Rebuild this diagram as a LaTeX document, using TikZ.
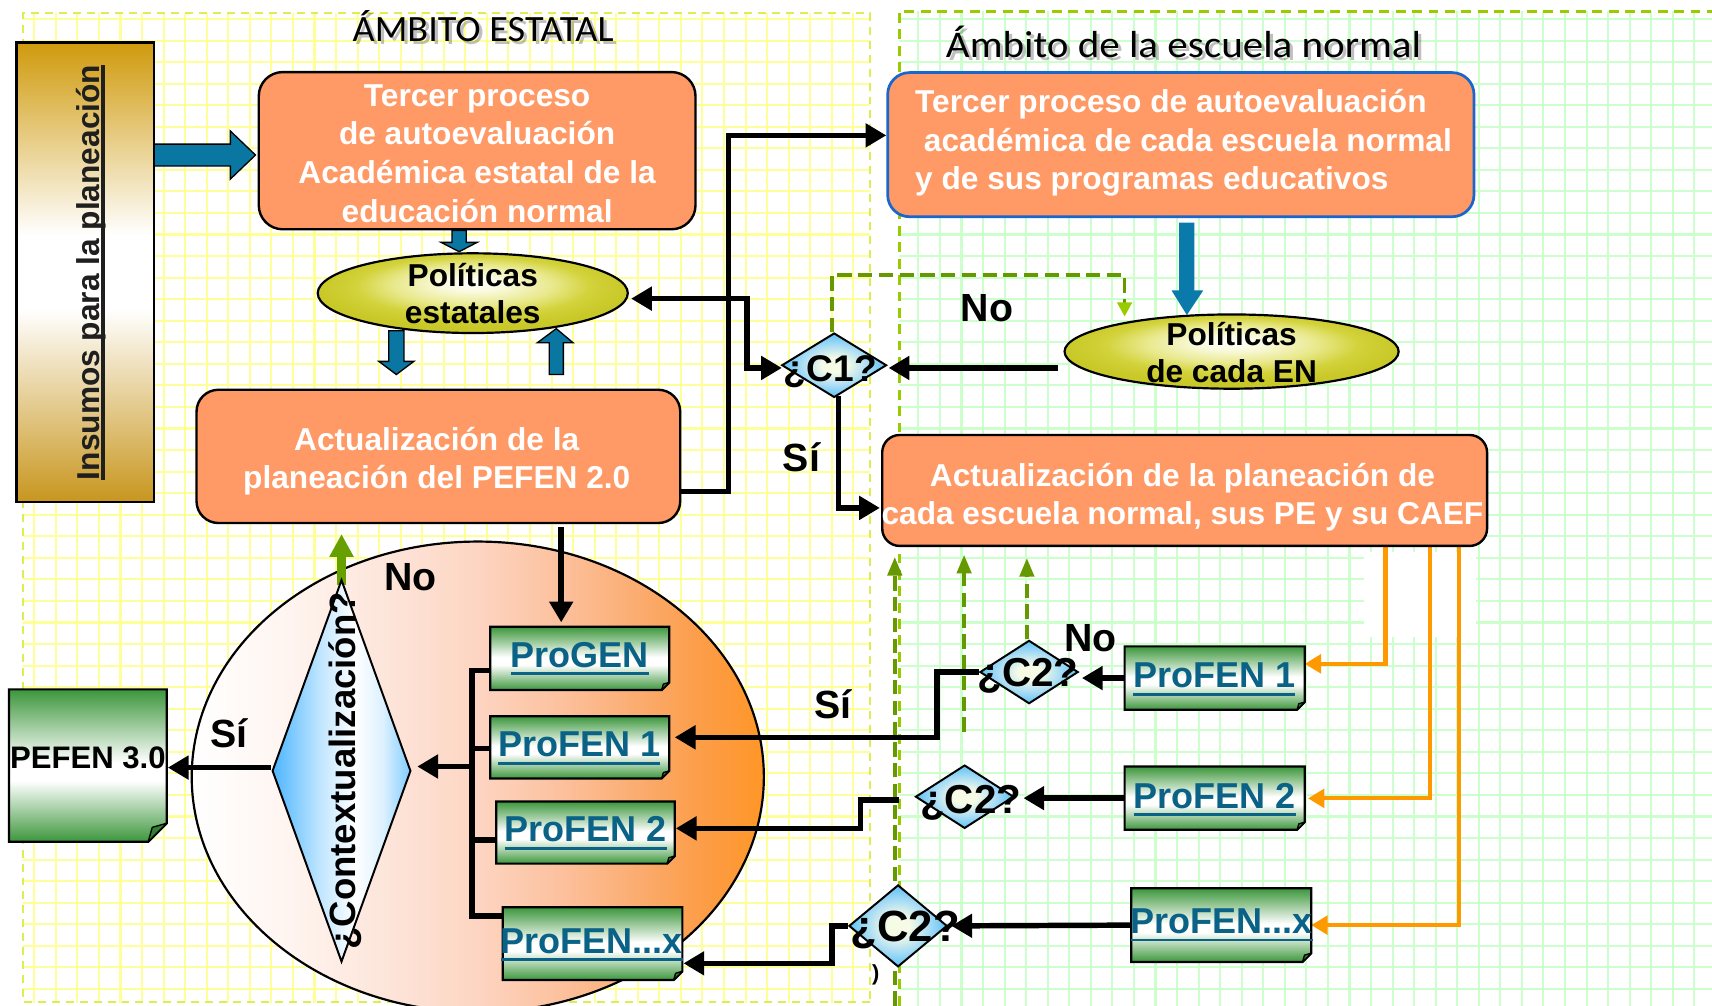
\documentclass[tikz,border=0pt]{standalone}
\usepackage{fontspec}
\setmainfont{Liberation Sans}
\newfontfamily\titlefont{Carlito}
\usepackage{graphicx}
\usetikzlibrary{arrows.meta,shapes.geometric,calc}
\definecolor{salmon}{HTML}{FF9966}
\definecolor{tealA}{HTML}{0A76A2}
\definecolor{tealB}{HTML}{0A7AAA}
\definecolor{gridY}{HTML}{FFFF99}
\definecolor{gridG}{HTML}{CCFFCC}
\definecolor{dashY}{HTML}{DDEE55}
\definecolor{dashG}{HTML}{99CC00}
\definecolor{oliveL}{HTML}{669900}
\definecolor{oliveA}{HTML}{66A000}
\definecolor{oraL}{HTML}{FF9900}
\definecolor{docG}{HTML}{3C963C}
\definecolor{docF}{HTML}{2F7F2F}
\definecolor{proT}{HTML}{0B6287}
\definecolor{goldA}{HTML}{CF9A0C}
\definecolor{goldB}{HTML}{C8961E}
\definecolor{boxBlue}{HTML}{1A66CC}
\definecolor{diaB}{HTML}{5EC2F5}
\definecolor{dia0}{HTML}{F6FBE6}
\definecolor{dia1}{HTML}{A8DCF5}
\definecolor{polY}{HTML}{C8C828}
\definecolor{polA}{HTML}{FAFAE0}
\definecolor{polB}{HTML}{E8E88A}
\definecolor{polC}{HTML}{D2D23A}
\definecolor{ellA}{HTML}{FFF6F2}
\definecolor{ellB}{HTML}{FDE5DA}
\definecolor{ellC}{HTML}{FDD5C2}
\definecolor{ellD}{HTML}{FCC09C}
\definecolor{ellE}{HTML}{FBA968}
\definecolor{ellF}{HTML}{FC9C45}
\definecolor{ellG}{HTML}{FF9626}
\definecolor{ctxL}{HTML}{4DB6FF}
\definecolor{ctxM}{HTML}{BFE5FF}
\definecolor{ctxN}{HTML}{DDF1FF}
\definecolor{ctxR}{HTML}{80CCFF}
\pgfdeclarehorizontalshading{bigsh}{100bp}{color(0bp)=(white); color(25bp)=(white); color(32.5bp)=(ellA); color(42bp)=(ellB); color(50bp)=(ellC); color(57.5bp)=(ellD); color(65bp)=(ellE); color(70bp)=(ellF); color(75bp)=(ellG); color(100bp)=(ellG)}
\pgfdeclarehorizontalshading{ctxsh}{100bp}{color(0bp)=(ctxL); color(25bp)=(ctxL); color(42bp)=(ctxM); color(55bp)=(white); color(65bp)=(ctxN); color(75bp)=(ctxR); color(100bp)=(ctxR)}
\pgfdeclareverticalshading{docsh}{100bp}{color(0bp)=(docG); color(25bp)=(docG); color(45bp)=(white); color(51bp)=(white); color(75bp)=(docG); color(100bp)=(docG)}
\pgfdeclareverticalshading{inssh}{100bp}{color(0bp)=(goldB); color(25bp)=(goldB); color(46bp)=(white); color(54bp)=(white); color(75bp)=(goldA); color(100bp)=(goldA)}
\pgfdeclareradialshading{polsh}{\pgfpoint{0bp}{7bp}}{color(0bp)=(white); color(5bp)=(polA); color(13bp)=(polB); color(19bp)=(polC); color(25bp)=(polY); color(50bp)=(polY)}
\pgfdeclareradialshading{diash}{\pgfpoint{0bp}{0bp}}{color(0bp)=(dia0); color(6bp)=(dia0); color(16bp)=(dia1); color(25bp)=(diaB); color(50bp)=(diaB)}
\pgfdeclarelayer{back}
\pgfdeclarelayer{conns}
\pgfsetlayers{back,conns,main}
\newcommand\fsz[2]{\fontsize{#1}{#2}\selectfont}
\newcommand\ulbar[3]{\leavevmode\setbox0=\hbox{#3}\rlap{\vrule width\wd0 height -#1 depth #2}\box0}
\newcommand\docbox[6]{%
  \shadedraw[shading=docsh, draw=black, line width=2pt] (#2,#3) -- (#4,#3) -- ({#4},{#5-#6}) -- ({#4-#6},{#5}) -- (#2,#5) -- cycle;
  \filldraw[fill=docF, draw=black, line width=1.2pt, line join=round] ({#4},{#5-#6}) -- ({#4-#6},{#5}) -- ({#4-0.78*#6},{#5-0.78*#6}) -- cycle;
  \node[name=#1, minimum width={#4-#2}, minimum height={#5-#3}, inner sep=0pt, outer sep=0pt] at ({(#2+#4)/2},{(#3+#5)/2}) {};
}
\begin{document}
\begin{tikzpicture}[x=1pt,y=-1pt,
  conn/.style={draw=black, line width=5pt, -{Triangle[length=19pt,width=21pt]}},
  ora/.style={draw=oraL, line width=3.8pt, -{Triangle[length=15pt,width=17pt]}},
  dsh/.style={draw=oliveL, line width=3.3pt, dash pattern=on 13pt off 6pt},
  lab/.style={font=\bfseries\fsz{36}{40}, anchor=base},
  boxt/.style={text=white, font=\bfseries\fsz{29}{35.2}, align=center, inner sep=0pt},
  blkt/.style={text=black, font=\bfseries\fsz{29}{33.6}, align=center, inner sep=0pt},
  protext/.style={font=\bfseries\fsz{33}{40}, text=proT, anchor=base, inner sep=0pt},
  salbox/.style={draw=black, line width=2.2pt, fill=salmon, inner sep=0pt},
  dia/.style={diamond, shade, shading=diash, draw=black, line width=1.8pt, inner sep=0pt},
  ctext/.style={font=\bfseries\fsz{#1}{#1}, anchor=base, inner sep=0pt},
  tealarr/.style={fill=tealA, draw=black, line width=1.2pt}
]
\useasboundingbox (0,0) rectangle (1568,921);
\begin{pgfonlayer}{back}
  \fill[white] (0,0) rectangle (1568,921);
  \begin{scope}
    \clip (20.8,12.2) rectangle (797,918);
    \foreach \i in {0,...,38} \draw[gridY, line width=1.9pt] ({31.4+19.74*\i},0) -- ({31.4+19.74*\i},921);
    \foreach \j in {0,...,45} \draw[gridY, line width=1.9pt] (0,{17.4+19.74*\j}) -- (800,{17.4+19.74*\j});
  \end{scope}
  \begin{scope}
    \clip (823.7,10.7) rectangle (1568,921);
    \foreach \i in {0,...,38} \draw[gridG, line width=1.9pt] ({821.4+19.74*\i},0) -- ({821.4+19.74*\i},921);
    \foreach \j in {0,...,46} \draw[gridG, line width=1.9pt] (800,{17.4+19.74*\j}) -- (1568,{17.4+19.74*\j});
  \end{scope}
  \fill[white] (1249,506) rectangle (1352,583);
  \draw[dashY, line width=1.8pt, dash pattern=on 7.3pt off 5.5pt] (797,918) -- (20.8,918) -- (20.8,12.2) -- (797,12.2) -- cycle;
  \draw[dashG, line width=2.3pt, dash pattern=on 9pt off 6pt] (823.7,921) -- (823.7,10.7) -- (1568,10.7);
  \node[name=big, ellipse, shade, shading=bigsh, draw=black, line width=2pt, minimum width=524, minimum height=431, inner sep=0pt] at (437.6,711.5) {};
\end{pgfonlayer}

% titles
\node[name=t1s, font=\titlefont\fsz{34}{40}, text=black, opacity=.25, anchor=base] at (445.5,41) {\scalebox{1.03}[1]{ÁMBITO ESTATAL}};
\node[name=t1, font=\titlefont\fsz{34}{40}, text=black, anchor=base] at (442.5,38) {\scalebox{1.03}[1]{ÁMBITO ESTATAL}};
\node[name=t2s, font=\titlefont\fsz{34.5}{40}, text=black, opacity=.25, anchor=base] at (1087,55.5) {\scalebox{1.09}[1]{Ámbito de la escuela normal}};
\node[name=t2, font=\titlefont\fsz{34.5}{40}, text=black, anchor=base] at (1084,52.5) {\scalebox{1.09}[1]{Ámbito de la escuela normal}};

% Insumos
\node[name=ins, shade, shading=inssh, draw=black, line width=2pt, minimum width=126.3, minimum height=421, inner sep=0pt] at (78.2,249.4) {};
\node[name=inst, rotate=90, anchor=base, font=\bfseries\fsz{29}{34}, text=black!88, inner sep=0pt] at (91,249.5) {\ulbar{0.05em}{0.18em}{Insumos para la planeación}};

% orange boxes
\node[name=tp1, salbox, rounded corners=22pt, minimum width=400, minimum height=144] at (437,138) {};
\node[name=tp1t, boxt, font=\bfseries\fsz{29}{35.4}] at (437,140.5) {Tercer proceso\\de autoevaluación\\Académica estatal de la\\educación normal};
\node[name=act1, salbox, rounded corners=20pt, minimum width=443, minimum height=122] at (401.5,418) {};
\node[name=act1t, boxt, font=\bfseries\fsz{29}{34.5}] at (400,422.5) {Actualización de la\\planeación del PEFEN 2.0};
\node[name=tp2, salbox, draw=boxBlue, line width=2.5pt, rounded corners=20pt, minimum width=537, minimum height=132] at (1081.5,132.5) {};
\node[name=tp2t, boxt, align=left, anchor=west, font=\bfseries\fsz{29}{35.1}] at (838,131) {Tercer proceso de autoevaluación\\\hspace*{8pt}académica de cada escuela normal\\y de sus programas educativos};
\node[name=act2, salbox, rounded corners=16pt, minimum width=554, minimum height=101.6] at (1085,449.2) {};
\node[name=act2t, boxt, font=\bfseries\fsz{29}{35}] at (1083,455) {Actualización de la planeación de\\cada escuela normal, sus PE y su CAEF};

% ellipses
\node[name=pol1, ellipse, shade, shading=polsh, draw=black, line width=2pt, minimum width=284, minimum height=73, inner sep=0pt] at (433,268.5) {};
\node[name=pol1t, blkt] at (433,269) {Políticas\\estatales};
\node[name=pol2, ellipse, shade, shading=polsh, draw=black, line width=2pt, minimum width=306, minimum height=68, inner sep=0pt] at (1128,322) {};
\node[name=pol2t, blkt, font=\bfseries\fsz{29}{34}] at (1128,322.5) {Políticas\\de cada EN};

% diamonds
\node[name=c1, dia, minimum width=96, minimum height=59] at (764,334.5) {};
\node[name=c2a, dia, minimum width=90, minimum height=58] at (942.5,615.5) {};
\node[name=c2b, dia, minimum width=90, minimum height=58] at (883.5,729.7) {};
\node[name=c2c, dia, minimum width=90, minimum height=75] at (822.5,848) {};
\node[name=ctx, diamond, shade, shading=ctxsh, draw=black, line width=1.8pt, inner sep=0pt, minimum width=127, minimum height=350] at (312.8,706) {};

% documents
\docbox{pefen}{8.2}{631.4}{152.7}{771}{17}
\docbox{progen}{449}{574}{613}{632}{7}
\docbox{pf1L}{449}{656}{613}{713}{7}
\docbox{pf2L}{454.5}{734}{618}{791}{7}
\docbox{pfxL}{460.5}{831}{625}{897.6}{8}
\docbox{pf1R}{1030}{592}{1195}{650}{7}
\docbox{pf2R}{1030}{702}{1195}{760}{7}
\docbox{pfxR}{1036}{813.6}{1201}{881}{8}

\node[name=pefent, font=\bfseries\fsz{28.5}{32}, anchor=base, inner sep=0pt] at (80.5,703.5) {PEFEN 3.0};
\node[name=progent, protext] at (531,611) {\ulbar{0.14em}{0.22em}{ProGEN}};
\node[name=pf1Lt, protext] at (530.5,693) {\ulbar{0.14em}{0.22em}{ProFEN 1}};
\node[name=pf2Lt, protext] at (536.5,771) {\ulbar{0.14em}{0.22em}{ProFEN 2}};
\node[name=pfxLt, protext] at (542,873) {\ulbar{0.14em}{0.22em}{ProFEN...x}};
\node[name=pf1Rt, protext] at (1112,630) {\ulbar{0.14em}{0.22em}{ProFEN 1}};
\node[name=pf2Rt, protext] at (1112.5,740.3) {\ulbar{0.14em}{0.22em}{ProFEN 2}};
\node[name=pfxRt, protext] at (1119,855) {\ulbar{0.14em}{0.22em}{ProFEN...x}};

% diamond texts
\node[name=c1t, ctext=34] at (760.5,349.5) {¿C1?};
\node[name=c2at, ctext=37] at (941.5,629) {¿C2?};
\node[name=c2bt, ctext=37] at (889,745) {¿C2?};
\node[name=c2ct, ctext=40] at (829,862.5) {¿C2?};
\node[name=ctxt, rotate=90, anchor=base, font=\bfseries\fsz{33.5}{36}, inner sep=0pt] at (326,706) {¿Contextualización?};

% labels
\node[name=lno1, lab] at (904,294.6) {No};
\node[name=lsi1, lab] at (734,432) {Sí};
\node[name=lno2, lab] at (376,541) {No};
\node[name=lsi2, lab] at (210,685) {Sí};
\node[name=lsi3, lab] at (763,657.7) {Sí};
\node[name=lno3, lab] at (998.6,597) {No};
\node[name=stray, font=\bfseries\fsz{20}{22}, anchor=base, inner sep=0pt] at (802,898) {)};

% teal block arrows
\draw[tealarr] (141.3,132) -- (211,132) -- (211,120) -- (234,142) -- (211,164) -- (211,152) -- (141.3,152) -- cycle;
\draw[tealarr] (414,211) -- (427,211) -- (427,222) -- (437,222) -- (420.5,230.5) -- (404,222) -- (414,222) -- cycle;
\draw[tealarr] (356,303) -- (370,303) -- (370,331) -- (379,331) -- (363,343) -- (347,331) -- (356,331) -- cycle;
\draw[tealarr] (503,343) -- (516,343) -- (516,314) -- (525,314) -- (509.5,301) -- (492,314) -- (503,314) -- cycle;
\fill[tealB] (1080,204) -- (1094,204) -- (1094,266) -- (1102,266) -- (1087,288.5) -- (1073,266) -- (1080,266) -- cycle;

\begin{pgfonlayer}{conns}
  % dashed green
  \draw[dsh, -{Triangle[length=13pt,width=13pt,color=dashG]}] ($(c1.north)+(-2,0)$) -- (762,252) -- (1030,252) -- ($(pol2.center)+(-98,-32)$);
  \coordinate (g1) at (819.5,921);
  \coordinate (g2) at (883,670);
  \draw[dsh, line width=3.5pt, shorten >=9pt, -{Triangle[length=17pt,width=13pt]}] (g1) -- (g1 |- act2.south);
  \draw[dsh, line width=3.5pt, shorten >=7pt, -{Triangle[length=17pt,width=13pt]}] (g2) -- (g2 |- act2.south);
  \draw[dsh, line width=3.5pt, shorten >=10pt, -{Triangle[length=17pt,width=13pt]}] ($(c2a.north)+(-2,0)$) -- ($(c2a.north |- act2.south)+(-2,0)$);
  % black connectors
  \draw[conn] ($(act1.east)+(0,32)$) -- (667,450) -- (667,124) -- ($(tp2.west)+(0,-8.5)$);
  \draw[conn, {Triangle[length=19pt,width=21pt]}-{Triangle[length=19pt,width=21pt]}] ($(pol1.east)+(2,5)$) -- (684,273.5) -- (684,337) -- ($(c1.west)+(1,2.5)$);
  \draw[conn] ($(pol2.west)+(-5,15)$) -- ($(c1.east)+(1,2.5)$);
  \draw[conn] ($(c1.south)+(4,-2)$) |- ($(act2.west)+(-1,16)$);
  \coordinate (a1s) at ($(act1.south)+(112.5,3)$);
  \draw[conn] (a1s) -- ($(a1s |- progen.north)+(0,-4)$);
  \draw[draw=oliveA, line width=8pt, -{Triangle[length=21pt,width=21pt]}] ($(ctx.north)+(0,6)$) -- ($(act1.south -| ctx.north)+(0,9)$);
  \coordinate (bt) at (432.5,614);
  \coordinate (bb) at (432.5,839);
  \draw[line width=5pt] (progen.west |- bt) -- (bt) -- (bb) -- (pfxL.west |- bb);
  \draw[line width=5pt] ($(pf1L.west)+(0,1)$) -- ($(bt |- pf1L.west)+(0,1)$);
  \draw[line width=5pt] ($(pf2L.west)+(0,7)$) -- ($(bt |- pf2L.west)+(0,7)$);
  \draw[conn] ($(bt |- ctx.east)+(0,-4)$) -- ($(ctx.east)+(5,-4)$);
  \draw[conn] ($(ctx.west)+(0,-3)$) -- ($(pefen.east)+(1,1.8)$);
  \draw[conn] (c2a.west) -| (858,675.3) -- ($(pf1L.east)+(5,-9.2)$);
  \draw[conn] ($(c2b.west)+(-14,3)$) -| (788,758.7) -- ($(pf2L.east)+(1,-3.8)$);
  \draw[conn] (c2c.west) -| (762,882.3) -- ($(pfxL.east)+(1,18)$);
  \draw[conn] (pf1R.west) -- ($(c2a.east)+(2.5,5.5)$);
  \draw[conn] (pf2R.west) -- ($(c2b.east)+(8,1.3)$);
  \draw[conn] (pfxR.west) -- ($(c2c.east)+(3,0)$);
  % orange
  \draw[ora] ($(act2.south)+(184,-4)$) |- ($(pf1R.east)+(0,-13)$);
  \draw[ora] ($(act2.south)+(224.5,-4)$) |- ($(pf2R.east)+(3,0.2)$);
  \draw[ora] ($(act2.south)+(251,-4)$) |- (pfxR.east);
\end{pgfonlayer}
\end{tikzpicture}
\end{document}
